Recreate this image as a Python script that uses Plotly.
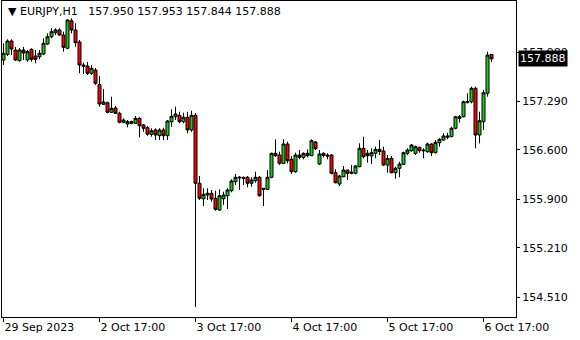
import plotly.graph_objects as go

# Hourly bars, 29 Sep 2023 17:00 .. 6 Oct 2023 19:00 (server time)
opens = [
    157.871, 157.952, 158.141, 158.013, 157.861, 158.013, 157.871, 158.023, 157.928, 157.918,
    157.956, 158.098, 158.202, 158.258, 158.297, 158.226, 158.037, 158.428, 158.297, 158.127,
    157.800, 157.786, 157.683, 157.729, 157.524, 157.243, 157.266, 157.130, 157.191, 157.116,
    156.988, 156.964, 156.974, 156.974, 157.044, 156.950, 156.911, 156.818, 156.879, 156.798,
    156.879, 156.798, 156.996, 157.067, 157.087, 156.996, 157.059, 156.879, 157.087, 156.123,
    155.904, 155.957, 155.981, 155.910, 155.744, 155.904, 155.947, 156.018, 156.146, 156.198,
    156.208, 156.208, 156.123, 156.160, 156.208, 156.052, 156.038, 156.208, 156.548, 156.524,
    156.406, 156.680, 156.463, 156.287, 156.524, 156.491, 156.514, 156.514, 156.709, 156.396,
    156.519, 156.524, 156.524, 156.273, 156.113, 156.217, 156.311, 156.265, 156.265, 156.358,
    156.619, 156.514, 156.510, 156.548, 156.605, 156.581, 156.382, 156.477, 156.273, 156.336,
    156.392, 156.548, 156.585, 156.548, 156.633, 156.595, 156.571, 156.680, 156.557, 156.699,
    156.737, 156.775, 156.784, 156.903, 157.044, 157.067, 157.266, 157.280, 157.470, 156.808,
    156.996, 157.399, 157.950,
]
highs = [
    158.108, 158.165, 158.165, 158.056, 158.041, 158.056, 158.013, 158.037, 158.013, 158.013,
    158.179, 158.250, 158.321, 158.321, 158.321, 158.273, 158.448, 158.463, 158.392, 158.155,
    157.833, 157.843, 157.800, 157.758, 157.645, 157.460, 157.280, 157.351, 157.219, 157.138,
    157.044, 157.020, 157.010, 157.077, 157.059, 156.964, 156.935, 156.903, 156.903, 156.903,
    156.911, 157.020, 157.172, 157.209, 157.138, 157.124, 157.138, 157.152, 157.120, 156.226,
    156.052, 156.052, 156.028, 156.018, 156.038, 156.004, 156.052, 156.180, 156.255, 156.226,
    156.217, 156.226, 156.208, 156.287, 156.226, 156.052, 156.311, 156.557, 156.747, 156.571,
    156.747, 156.713, 156.510, 156.557, 156.595, 156.562, 156.605, 156.747, 156.723, 156.595,
    156.562, 156.548, 156.534, 156.321, 156.241, 156.368, 156.311, 156.382, 156.382, 156.690,
    156.784, 156.595, 156.619, 156.642, 156.737, 156.642, 156.524, 156.510, 156.358, 156.429,
    156.571, 156.619, 156.680, 156.656, 156.642, 156.619, 156.699, 156.690, 156.737, 156.761,
    156.832, 156.840, 156.925, 157.077, 157.091, 157.294, 157.399, 157.493, 157.493, 157.138,
    157.446, 157.989, 157.953,
]
lows = [
    157.800, 157.928, 157.942, 157.857, 157.847, 157.871, 157.847, 157.847, 157.824, 157.881,
    157.942, 158.084, 158.179, 158.226, 158.212, 157.989, 158.023, 158.250, 158.060, 157.683,
    157.673, 157.659, 157.659, 157.517, 157.209, 157.233, 157.116, 157.124, 157.106, 156.974,
    156.974, 156.917, 156.959, 156.964, 156.775, 156.854, 156.798, 156.784, 156.737, 156.737,
    156.737, 156.737, 156.925, 157.020, 156.974, 156.974, 156.832, 156.854, 154.369, 155.886,
    155.801, 155.886, 155.862, 155.734, 155.734, 155.815, 155.758, 155.995, 156.099, 156.028,
    156.099, 156.066, 156.075, 156.131, 155.933, 155.801, 156.028, 156.194, 156.500, 156.382,
    156.396, 156.406, 156.255, 156.273, 156.463, 156.463, 156.491, 156.510, 156.595, 156.382,
    156.491, 156.463, 156.251, 156.123, 156.085, 156.208, 156.170, 156.251, 156.251, 156.350,
    156.477, 156.415, 156.396, 156.477, 156.524, 156.368, 156.273, 156.265, 156.188, 156.208,
    156.382, 156.524, 156.571, 156.524, 156.557, 156.477, 156.557, 156.510, 156.548, 156.642,
    156.727, 156.747, 156.775, 156.889, 156.982, 157.059, 157.257, 157.257, 156.619, 156.690,
    156.879, 157.351, 157.844,
]
closes = [
    157.966, 158.141, 158.027, 157.871, 158.013, 157.971, 157.989, 157.881, 157.881, 157.966,
    158.108, 158.202, 158.273, 158.297, 158.226, 158.051, 158.438, 158.297, 158.117, 157.800,
    157.782, 157.683, 157.754, 157.540, 157.247, 157.276, 157.130, 157.186, 157.116, 156.988,
    157.020, 156.996, 156.996, 157.044, 156.940, 156.903, 156.818, 156.869, 156.808, 156.879,
    156.798, 157.006, 157.073, 157.106, 156.996, 157.059, 156.879, 157.087, 156.123, 155.910,
    155.967, 155.981, 155.900, 155.754, 155.947, 155.957, 156.028, 156.156, 156.208, 156.208,
    156.194, 156.123, 156.170, 156.208, 155.947, 156.038, 156.208, 156.548, 156.514, 156.406,
    156.680, 156.443, 156.287, 156.524, 156.491, 156.548, 156.548, 156.727, 156.613, 156.538,
    156.548, 156.510, 156.265, 156.131, 156.226, 156.311, 156.265, 156.279, 156.368, 156.619,
    156.500, 156.548, 156.557, 156.605, 156.574, 156.382, 156.477, 156.273, 156.336, 156.396,
    156.557, 156.595, 156.666, 156.642, 156.585, 156.585, 156.680, 156.557, 156.704, 156.747,
    156.794, 156.794, 156.903, 157.067, 157.067, 157.280, 157.280, 157.470, 156.808, 157.010,
    157.407, 157.942, 157.888,
]
bars = list(range(len(closes)))

x_tick_bars = [0, 24, 48, 72, 96, 120]
x_tick_labels = ["29 Sep 2023", "2 Oct 17:00", "3 Oct 17:00", "4 Oct 17:00", "5 Oct 17:00", "6 Oct 17:00"]
y_tick_vals = [157.980, 157.290, 156.600, 155.900, 155.210, 154.510]
y_tick_labels = ["157.980", "157.290", "156.600", "155.900", "155.210", "154.510"]

symbol = "EURJPY,H1"
last_o, last_h, last_l, last_c = opens[-1], highs[-1], lows[-1], closes[-1]

GREEN = "#1ec81e"
RED = "#ff0000"
FONT = "DejaVu Sans"

fig = go.Figure(go.Candlestick(
    x=bars, open=opens, high=highs, low=lows, close=closes,
    increasing=dict(line=dict(color="black", width=1), fillcolor=GREEN),
    decreasing=dict(line=dict(color="black", width=1), fillcolor=RED),
    whiskerwidth=0, hoverinfo="skip",
))

fig.update_layout(
    width=580, height=340,
    margin=dict(l=2, r=64, t=1, b=23),
    paper_bgcolor="white", plot_bgcolor="white",
    showlegend=False, boxgap=0.25, boxgroupgap=0,
    font=dict(family=FONT, size=11, color="black"),
)
fig.update_xaxes(
    range=[-0.375, 128.125], tickmode="array", tickvals=x_tick_bars, ticktext=x_tick_labels,
    ticks="outside", ticklen=4, tickcolor="black", showgrid=False, zeroline=False,
    showline=True, linecolor="black", linewidth=1, mirror=True,
    rangeslider=dict(visible=False), ticklabelposition="outside right",
    tickfont=dict(family=FONT, size=11, color="black"),
)
fig.update_yaxes(
    side="right", range=[154.227, 158.708], tickmode="array",
    tickvals=y_tick_vals, ticktext=y_tick_labels,
    ticks="outside", ticklen=3, tickcolor="black", showgrid=False, zeroline=False,
    showline=True, linecolor="black", linewidth=1, mirror=True,
    tickfont=dict(family=FONT, size=11, color="black"),
)

fig.add_annotation(
    xref="paper", yref="paper", x=0, y=1, xanchor="left", yanchor="top",
    xshift=4, yshift=-2, showarrow=False, align="left",
    text="▼\u00a0" + symbol + "\u00a0\u00a0\u00a0" + " ".join(f"{v:.3f}" for v in (last_o, last_h, last_l, last_c)),
    font=dict(family=FONT, size=11, color="black"),
)
fig.add_annotation(
    xref="paper", yref="y", x=1, y=last_c, xanchor="left", yanchor="middle",
    xshift=2, showarrow=False, text=f"{last_c:.3f}",
    bgcolor="black", font=dict(family=FONT, size=11, color="white"), borderpad=1,
)

fig.write_html("out.html")
